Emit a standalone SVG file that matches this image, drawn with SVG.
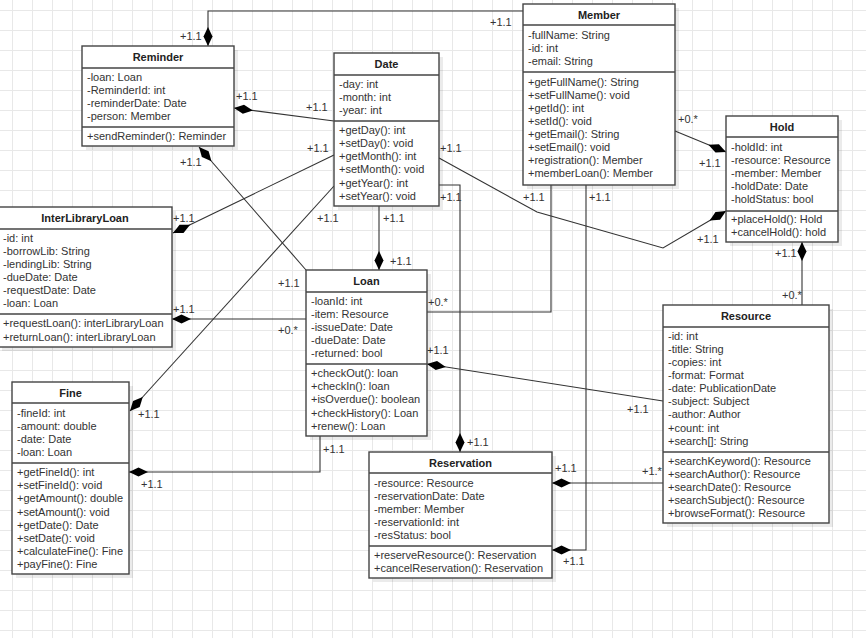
<svg xmlns="http://www.w3.org/2000/svg" width="866" height="638" viewBox="0 0 866 638">
<defs>
<pattern id="grid" x="12" y="10" width="20" height="20" patternUnits="userSpaceOnUse">
<path d="M0.5,0 V20 M0,0.5 H20" stroke="#e8e8e8" stroke-width="1" fill="none"/>
</pattern>
<marker id="dia" markerWidth="20" markerHeight="10" refX="0" refY="5" orient="auto" markerUnits="userSpaceOnUse" viewBox="0 0 20 10" overflow="visible">
<path d="M0,5 L9.5,0.5 L19,5 L9.5,9.5 Z" fill="#000"/>
</marker>
</defs>
<style>
text{font-family:"Liberation Sans",Arial,sans-serif;font-size:11px;fill:#333}
.t{font-weight:bold;text-anchor:middle;fill:#222}
.box{fill:#fff;stroke:#444;stroke-width:1.4}
.sh{fill:#000;fill-opacity:0.08}
.sep{stroke:#444;stroke-width:1.4}
.c{fill:none;stroke:#333;stroke-width:1.1}
.d{marker-start:url(#dia)}
</style>
<rect width="866" height="638" fill="#fff"/>
<rect width="866" height="638" fill="url(#grid)"/>

<g id="connectors">
<path class="c d" d="M208,46 V11 H523"/>
<path class="c d" d="M234,108 L334,121"/>
<path class="c d" d="M199,147 L306,270"/>
<path class="c d" d="M173,233 L334,155"/>
<path class="c d" d="M130,411 L334,186"/>
<path class="c d" d="M379,270 V206"/>
<path class="c d" d="M460,452 V185 H439"/>
<path class="c" d="M427,312 H551 V185"/>
<path class="c d" d="M552,550 H586 V185"/>
<path class="c d" d="M726,152 L675,131"/>
<path class="c d" d="M726,211 L663,248 L537,212 L439,158"/>
<path class="c d" d="M802,242 V305"/>
<path class="c d" d="M427,364 L663,401"/>
<path class="c d" d="M552,483 H663"/>
<path class="c d" d="M129,472 H320 V436"/>
<path class="c d" d="M172,319 H306"/>
<text x="180" y="40">+1.1</text>
<text x="490" y="26">+1.1</text>
<text x="236" y="100">+1.1</text>
<text x="306" y="111">+1.1</text>
<text x="180" y="166">+1.1</text>
<text x="278" y="287">+1.1</text>
<text x="173" y="222">+1.1</text>
<text x="307" y="152">+1.1</text>
<text x="138" y="418">+1.1</text>
<text x="317" y="222">+1.1</text>
<text x="383" y="222">+1.1</text>
<text x="390" y="265">+1.1</text>
<text x="440" y="201">+1.1</text>
<text x="467" y="446">+1.1</text>
<text x="428" y="306">+0.*</text>
<text x="523" y="201">+1.1</text>
<text x="589" y="201">+1.1</text>
<text x="563" y="565">+1.1</text>
<text x="678" y="123">+0.*</text>
<text x="699" y="167">+1.1</text>
<text x="440" y="152">+1.1</text>
<text x="697" y="243">+1.1</text>
<text x="775" y="257">+1.1</text>
<text x="782" y="299">+0.*</text>
<text x="427" y="354">+1.1</text>
<text x="627" y="413">+1.1</text>
<text x="555" y="472">+1.1</text>
<text x="642" y="475">+1.*</text>
<text x="323" y="453">+1.1</text>
<text x="141" y="488">+1.1</text>
<text x="173" y="313">+1.1</text>
<text x="278" y="334">+0.*</text>
</g>

<g id="reminder">
<rect class="sh" x="86" y="50" width="152" height="100"/>
<rect class="box" x="82" y="46" width="152" height="100"/>
<line class="sep" x1="82" y1="68" x2="234" y2="68"/>
<line class="sep" x1="82" y1="127" x2="234" y2="127"/>
<text class="t" x="158" y="61">Reminder</text>
<text x="87" y="81">-loan: Loan</text>
<text x="87" y="94">-ReminderId: int</text>
<text x="87" y="107">-reminderDate: Date</text>
<text x="87" y="120">-person: Member</text>
<text x="87" y="140">+sendReminder(): Reminder</text>
</g>

<g id="date">
<rect class="sh" x="338" y="57" width="105" height="153"/>
<rect class="box" x="334" y="53" width="105" height="153"/>
<line class="sep" x1="334" y1="75" x2="439" y2="75"/>
<line class="sep" x1="334" y1="121" x2="439" y2="121"/>
<text class="t" x="386.5" y="68">Date</text>
<text x="339" y="88">-day: int</text>
<text x="339" y="101">-month: int</text>
<text x="339" y="114">-year: int</text>
<text x="339" y="134">+getDay(): int</text>
<text x="339" y="147">+setDay(): void</text>
<text x="339" y="160">+getMonth(): int</text>
<text x="339" y="173">+setMonth(): void</text>
<text x="339" y="187">+getYear(): int</text>
<text x="339" y="200">+setYear(): void</text>
</g>

<g id="member">
<rect class="sh" x="527" y="8" width="152" height="181"/>
<rect class="box" x="523" y="4" width="152" height="181"/>
<line class="sep" x1="523" y1="25" x2="675" y2="25"/>
<line class="sep" x1="523" y1="72" x2="675" y2="72"/>
<text class="t" x="599" y="19">Member</text>
<text x="528" y="39">-fullName: String</text>
<text x="528" y="52">-id: int</text>
<text x="528" y="65">-email: String</text>
<text x="528" y="86">+getFullName(): String</text>
<text x="528" y="99">+setFullName(): void</text>
<text x="528" y="112">+getId(): int</text>
<text x="528" y="125">+setId(): void</text>
<text x="528" y="138">+getEmail(): String</text>
<text x="528" y="151">+setEmail(): void</text>
<text x="528" y="164">+registration(): Member</text>
<text x="528" y="177">+memberLoan(): Member</text>
</g>

<g id="hold">
<rect class="sh" x="730" y="120" width="112" height="126"/>
<rect class="box" x="726" y="116" width="112" height="126"/>
<line class="sep" x1="726" y1="137" x2="838" y2="137"/>
<line class="sep" x1="726" y1="211" x2="838" y2="211"/>
<text class="t" x="782" y="131">Hold</text>
<text x="731" y="151">-holdId: int</text>
<text x="731" y="164">-resource: Resource</text>
<text x="731" y="177">-member: Member</text>
<text x="731" y="190">-holdDate: Date</text>
<text x="731" y="203">-holdStatus: bool</text>
<text x="731" y="223">+placeHold(): Hold</text>
<text x="731" y="236">+cancelHold(): hold</text>
</g>

<g id="resource">
<rect class="sh" x="667" y="309" width="166" height="218"/>
<rect class="box" x="663" y="305" width="166" height="218"/>
<line class="sep" x1="663" y1="327" x2="829" y2="327"/>
<line class="sep" x1="663" y1="452" x2="829" y2="452"/>
<text class="t" x="746" y="320">Resource</text>
<text x="668" y="340">-id: int</text>
<text x="668" y="353">-title: String</text>
<text x="668" y="366">-copies: int</text>
<text x="668" y="379">-format: Format</text>
<text x="668" y="392">-date: PublicationDate</text>
<text x="668" y="405">-subject: Subject</text>
<text x="668" y="418">-author: Author</text>
<text x="668" y="432">+count: int</text>
<text x="668" y="445">+search[]: String</text>
<text x="668" y="465">+searchKeyword(): Resource</text>
<text x="668" y="478">+searchAuthor(): Resource</text>
<text x="668" y="491">+searchDate(): Resource</text>
<text x="668" y="504">+searchSubject(): Resource</text>
<text x="668" y="517">+browseFormat(): Resource</text>
</g>

<g id="interlibraryloan">
<rect class="sh" x="2" y="211" width="174" height="140"/>
<rect class="box" x="-2" y="207" width="174" height="140"/>
<line class="sep" x1="-2" y1="229" x2="172" y2="229"/>
<line class="sep" x1="-2" y1="314" x2="172" y2="314"/>
<text class="t" x="85" y="222">InterLibraryLoan</text>
<text x="3" y="242">-id: int</text>
<text x="3" y="255">-borrowLib: String</text>
<text x="3" y="268">-lendingLib: String</text>
<text x="3" y="281">-dueDate: Date</text>
<text x="3" y="294">-requestDate: Date</text>
<text x="3" y="307">-loan: Loan</text>
<text x="3" y="327">+requestLoan(): interLibraryLoan</text>
<text x="3" y="341">+returnLoan(): interLibraryLoan</text>
</g>

<g id="loan">
<rect class="sh" x="310" y="274" width="121" height="166"/>
<rect class="box" x="306" y="270" width="121" height="166"/>
<line class="sep" x1="306" y1="292" x2="427" y2="292"/>
<line class="sep" x1="306" y1="364" x2="427" y2="364"/>
<text class="t" x="366.5" y="285">Loan</text>
<text x="311" y="305">-loanId: int</text>
<text x="311" y="318">-item: Resource</text>
<text x="311" y="331">-issueDate: Date</text>
<text x="311" y="344">-dueDate: Date</text>
<text x="311" y="357">-returned: bool</text>
<text x="311" y="377">+checkOut(): loan</text>
<text x="311" y="390">+checkIn(): loan</text>
<text x="311" y="403">+isOverdue(): boolean</text>
<text x="311" y="417">+checkHistory(): Loan</text>
<text x="311" y="430">+renew(): Loan</text>
</g>

<g id="fine">
<rect class="sh" x="16" y="386" width="117" height="192"/>
<rect class="box" x="12" y="382" width="117" height="192"/>
<line class="sep" x1="12" y1="403" x2="129" y2="403"/>
<line class="sep" x1="12" y1="463" x2="129" y2="463"/>
<text class="t" x="70.5" y="397">Fine</text>
<text x="17" y="417">-fineId: int</text>
<text x="17" y="430">-amount: double</text>
<text x="17" y="443">-date: Date</text>
<text x="17" y="456">-loan: Loan</text>
<text x="17" y="476">+getFineId(): int</text>
<text x="17" y="489">+setFineId(): void</text>
<text x="17" y="502">+getAmount(): double</text>
<text x="17" y="516">+setAmount(): void</text>
<text x="17" y="529">+getDate(): Date</text>
<text x="17" y="542">+setDate(): void</text>
<text x="17" y="555">+calculateFine(): Fine</text>
<text x="17" y="568">+payFine(): Fine</text>
</g>

<g id="reservation">
<rect class="sh" x="373" y="456" width="183" height="126"/>
<rect class="box" x="369" y="452" width="183" height="126"/>
<line class="sep" x1="369" y1="473" x2="552" y2="473"/>
<line class="sep" x1="369" y1="546" x2="552" y2="546"/>
<text class="t" x="460.5" y="467">Reservation</text>
<text x="374" y="487">-resource: Resource</text>
<text x="374" y="500">-reservationDate: Date</text>
<text x="374" y="513">-member: Member</text>
<text x="374" y="526">-reservationId: int</text>
<text x="374" y="539">-resStatus: bool</text>
<text x="374" y="559">+reserveResource(): Reservation</text>
<text x="374" y="572">+cancelReservation(): Reservation</text>
</g>
</svg>
